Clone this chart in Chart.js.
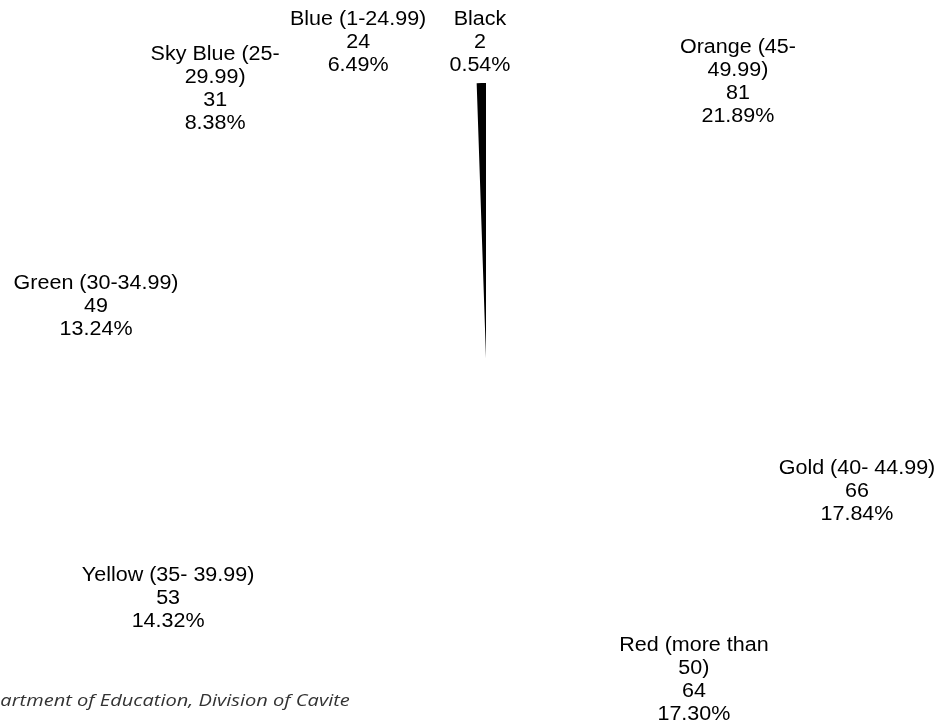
<!DOCTYPE html>
<html>
<head>
<meta charset="utf-8">
<title>Pie</title>
<script src="https://cdn.jsdelivr.net/npm/chart.js@4.4.1/dist/chart.umd.min.js"></script>
<style>
  html, body { margin: 0; padding: 0; background: #fff; overflow: hidden; }
  #wrap { position: relative; width: 937px; height: 726px; overflow: hidden; }
  #source {
    position: absolute; right: 587px; top: 689px;
    font: italic 17px/22px "Open Sans", "DejaVu Sans", sans-serif;
    color: #333; white-space: nowrap;
    transform: scaleX(1.18); transform-origin: right center;
  }
</style>
</head>
<body>
<div id="wrap">
  <canvas id="pie" width="937" height="726"></canvas>
  <div id="source">Department of Education, Division of Cavite</div>
</div>
<script>
// categories, clockwise from 12 o'clock
const categories = [
    ["Orange (45-", "49.99)"],
    ["Gold (40- 44.99)"],
    ["Red (more than", "50)"],
    ["Yellow (35- 39.99)"],
    ["Green (30-34.99)"],
    ["Sky Blue (25-", "29.99)"],
    ["Blue (1-24.99)"],
    ["Black"]
];
const counts = [81, 66, 64, 53, 49, 31, 24, 2];
const sliceColors = ["#fff", "#fff", "#fff", "#fff", "#fff", "#fff", "#fff", "#000"];

// where each label block sits, relative to the pie centre, in radii
const labelOffsets = [
    [0.916, -1.004], [1.349, 0.484], [0.756, 1.171], [-1.156, 0.876],
    [-1.418, -0.189], [-0.985, -0.978], [-0.465, -1.149], [-0.022, -1.149]
];

const total = counts.reduce((a, b) => a + b, 0);

const outsideLabels = {
    id: "outsideLabels",
    afterDatasetsDraw(chart) {
        const ctx = chart.ctx;
        const meta = chart.getDatasetMeta(0);
        const lineH = 23;
        const sx = 1.075; // label font runs a little wide
        ctx.save();
        ctx.scale(sx, 1);
        ctx.font = "20px 'Liberation Sans', Arial, sans-serif";
        ctx.fillStyle = "#000";
        ctx.textAlign = "center";
        ctx.textBaseline = "middle";
        meta.data.forEach((arc, i) => {
            const { x, y, outerRadius } = arc.getProps(["x", "y", "outerRadius"], true);
            const pct = (counts[i] / total * 100).toFixed(2) + "%";
            const lines = [...categories[i], String(counts[i]), pct];
            const cx = x + labelOffsets[i][0] * outerRadius;
            const cy = y + labelOffsets[i][1] * outerRadius;
            const top = cy - (lines.length - 1) * lineH / 2;
            lines.forEach((t, k) => ctx.fillText(t, cx / sx, top + k * lineH));
        });
        ctx.restore();
    }
};

new Chart(document.getElementById("pie"), {
    type: "pie",
    data: {
        labels: categories,
        datasets: [{ data: counts, backgroundColor: sliceColors, borderWidth: 0 }]
    },
    options: {
        responsive: false,
        animation: false,
        layout: { padding: { left: 211, right: 176, top: 83, bottom: 93 } },
        plugins: { legend: { display: false }, tooltip: { enabled: false } }
    },
    plugins: [outsideLabels]
});
</script>
</body>
</html>
